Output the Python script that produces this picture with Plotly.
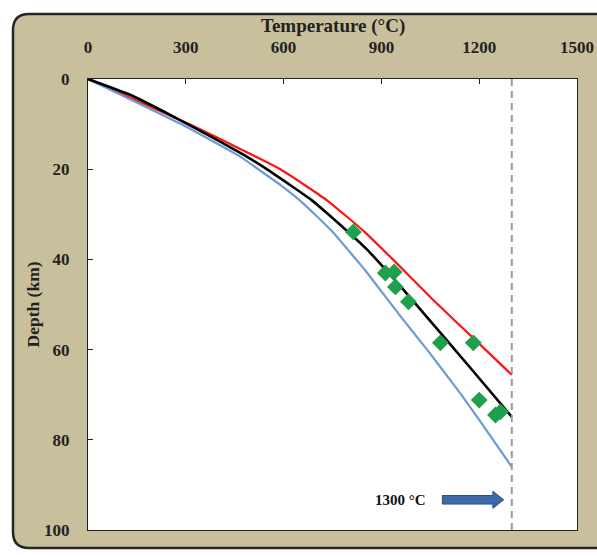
import plotly.graph_objects as go

# Geotherms: temperature (°C) at depth (km)
red_depth = [0, 10, 20, 27, 34, 40, 49, 60, 65.6]
red_temp = [0, 310, 590, 735, 850, 935, 1059, 1219, 1300]

black_depth = [0, 3.5, 9.1, 16.5, 20.2, 26.8, 30, 37.9, 46.1, 53.4, 63.8, 74.9]
black_temp = [0, 129, 282, 470, 553, 685, 737, 857, 960, 1047, 1170, 1300]

blue_depth = [0, 10, 17.2, 20, 23.5, 27.9, 33.5, 42.4, 52.3, 60, 70, 75.6, 86]
blue_temp = [0, 285, 467, 522, 590, 665, 745, 850, 955, 1040, 1145, 1200, 1300]

# Xenolith data points
pts_temp = [814, 912, 939, 943, 983, 1081, 1182, 1200, 1250, 1265]
pts_depth = [33.9, 43.0, 42.8, 46.1, 49.4, 58.5, 58.5, 71.2, 74.5, 73.8]

x_ticks = [0, 300, 600, 900, 1200, 1500]
y_ticks = [0, 20, 40, 60, 80, 100]
solidus_t = 1300

FONT = "Liberation Serif"
PW = 489  # plot width px
PH = 451  # plot height px

fig = go.Figure()
fig.add_trace(go.Scatter(x=red_temp, y=red_depth, mode="lines",
                         line=dict(color="#ff1414", width=2.2, shape="spline", smoothing=0.4),
                         showlegend=False))
fig.add_trace(go.Scatter(x=blue_temp, y=blue_depth, mode="lines",
                         line=dict(color="#6e9bd4", width=2.2, shape="spline", smoothing=0.4),
                         showlegend=False))
fig.add_trace(go.Scatter(x=black_temp, y=black_depth, mode="lines",
                         line=dict(color="#000000", width=2.6, shape="spline", smoothing=0.4),
                         showlegend=False))
fig.add_trace(go.Scatter(x=pts_temp, y=pts_depth, mode="markers",
                         marker=dict(symbol="diamond", size=13, color="#1fa04c"),
                         showlegend=False))

# rounded beige frame (paper coords)
x0, x1, y0, y1 = -75 / PW, 1.2, -18 / PH, 1 + 65 / PH
rx, ry = 16 / PW, 16 / PH
path = (f"M {x0+rx},{y1} L {x1},{y1} L {x1},{y0} L {x0+rx},{y0} "
        f"Q {x0},{y0} {x0},{y0+ry} L {x0},{y1-ry} Q {x0},{y1} {x0+rx},{y1} Z")
fig.add_shape(type="path", path=path, xref="paper", yref="paper", layer="below",
              fillcolor="#c8c09c", line=dict(color="#262626", width=2.5))
fig.add_shape(type="rect", xref="paper", yref="paper", x0=0, x1=1, y0=0, y1=1,
              layer="below", fillcolor="white", line=dict(width=0))

# dashed 1300 line
fig.add_shape(type="line", x0=solidus_t, x1=solidus_t, y0=0, y1=100, xref="x", yref="y",
              line=dict(color="#9a9a9a", width=2, dash="7px,5px"))

# block arrow
ah, hh = 0.95, 1.9
ax0, ax1, axh = 1087, 1242, 1275
ay = 93.3
arrow = (f"M {ax0},{ay-ah} L {ax1},{ay-ah} L {ax1},{ay-hh} L {axh},{ay} "
         f"L {ax1},{ay+hh} L {ax1},{ay+ah} L {ax0},{ay+ah} Z")
fig.add_shape(type="path", path=arrow, xref="x", yref="y",
              fillcolor="#3d6aa6", line=dict(color="#2a4f80", width=1))

fig.add_annotation(x=958, y=93.3, xref="x", yref="y", text="1300 °C",
                   showarrow=False,
                   font=dict(family=FONT, size=15, color="#111", weight="bold"))

fig.add_annotation(x=0.5, y=1 + 53 / PH, xref="paper", yref="paper",
                   xanchor="center", yanchor="middle",
                   text="Temperature (°C)", showarrow=False,
                   font=dict(family=FONT, size=19, color="#222", weight="bold"))
fig.add_annotation(x=-56 / PW, y=0.5, xref="paper", yref="paper",
                   xanchor="center", yanchor="middle",
                   text="Depth (km)", textangle=-90, showarrow=False,
                   font=dict(family=FONT, size=17.5, color="#222", weight="bold"))

fig.update_layout(
    width=597, height=557, autosize=False,
    margin=dict(l=88, r=597 - 88 - PW, t=79, b=557 - 79 - PH, pad=0,
                autoexpand=False),
    paper_bgcolor="white", plot_bgcolor="rgba(0,0,0,0)",
    xaxis=dict(side="top", range=[0, 1500], tickvals=x_ticks, automargin=False,
               ticks="inside", ticklen=5, tickcolor="#222", showgrid=False,
               zeroline=False, showline=True, linecolor="#222", linewidth=1,
               mirror=True, ticklabelstandoff=18,
               tickfont=dict(family=FONT, size=17, color="#222", weight="bold")),
    yaxis=dict(range=[100, 0], tickvals=y_ticks, automargin=False,
               ticks="inside", ticklen=5, tickcolor="#222", showgrid=False,
               zeroline=False, showline=True, linecolor="#222", linewidth=1,
               mirror=True, ticklabelstandoff=14,
               tickfont=dict(family=FONT, size=17, color="#222", weight="bold")),
)

fig.write_html("out.html",
               config=dict(displayModeBar=False, responsive=False),
               post_script="document.body.style.margin='0px';"
                           "document.body.style.overflow='hidden';")
